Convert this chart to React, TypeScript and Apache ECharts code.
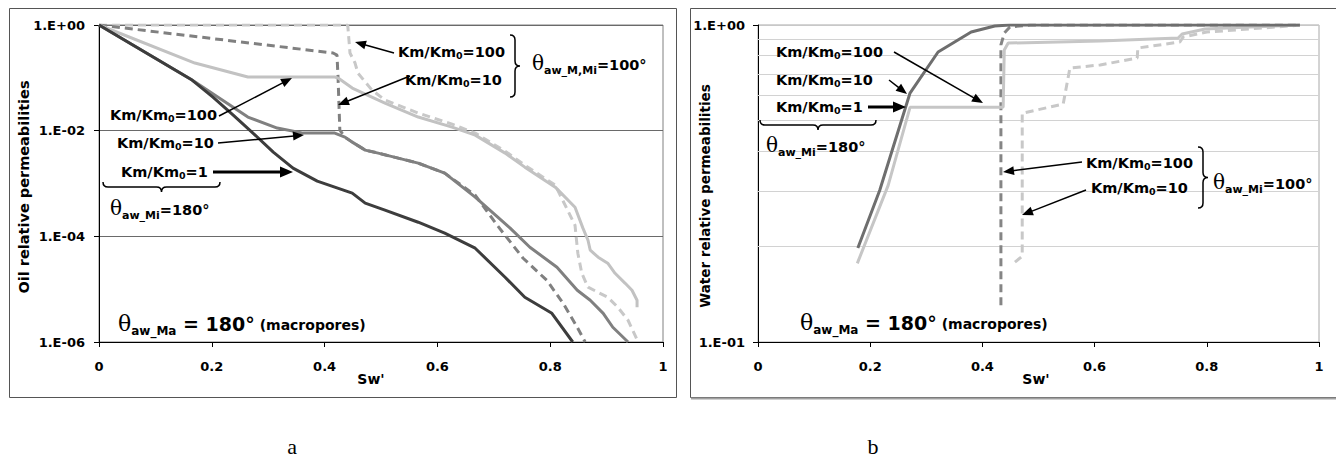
import React, { useEffect, useRef } from "react";
import * as echarts from "echarts";

// ---------------- data ----------------
const swTicks = [0, 0.2, 0.4, 0.6, 0.8, 1];
const oilTicks = [1e-6, 1e-4, 1e-2, 1];
const waterTicks = [0.1, 1];
const waterMinorGrid = [0.2, 0.3, 0.4, 0.5, 0.6, 0.7, 0.8, 0.9];

// (a) Oil relative permeability, theta_aw_Mi = 180 deg (solid)
const oilKm1Solid: [number, number][] = [
  [0, 1], [0.165, 0.0908], [0.202, 0.0432], [0.238, 0.0197], [0.273, 0.00899], [0.309, 0.00393],
  [0.344, 0.00195], [0.387, 0.00111], [0.418, 0.000853], [0.449, 0.000656], [0.472, 0.000424],
  [0.507, 0.000313], [0.566, 0.000185], [0.613, 0.000115], [0.667, 0.0000596], [0.72, 0.0000168],
  [0.755, 0.00000703], [0.803, 0.00000349], [0.84, 0.000001],
];
const oilKm10Solid: [number, number][] = [
  [0, 1], [0.165, 0.0908], [0.264, 0.0181], [0.316, 0.0112], [0.362, 0.00899], [0.418, 0.00899],
  [0.436, 0.00755], [0.449, 0.00607], [0.472, 0.00428], [0.495, 0.00376], [0.566, 0.00243],
  [0.613, 0.00157], [0.667, 0.000551], [0.729, 0.000143], [0.764, 0.0000622], [0.812, 0.000026],
  [0.848, 0.00000953], [0.871, 0.00000616], [0.894, 0.00000349], [0.911, 0.0000019], [0.938, 0.000001],
];
const oilKm100Solid: [number, number][] = [
  [0, 1], [0.17, 0.1905], [0.264, 0.1035], [0.418, 0.1035], [0.424, 0.099], [0.449, 0.064],
  [0.507, 0.0333], [0.566, 0.0181], [0.626, 0.01167], [0.667, 0.00824], [0.72, 0.00376],
  [0.755, 0.00204], [0.809, 0.000853], [0.844, 0.000356], [0.858, 0.000143], [0.867, 0.0000844],
  [0.871, 0.0000546], [0.885, 0.0000402], [0.902, 0.000031], [0.915, 0.00002], [0.933, 0.0000129],
  [0.945, 0.00000953], [0.954, 0.00000616], [0.954, 0.00000454],
];
// (a) theta_aw_M,Mi = 100 deg (dashed)
const oilKm10Dashed: [number, number][] = [
  [0, 1], [0.415, 0.295], [0.422, 0.27], [0.424, 0.0908], [0.427, 0.01025], [0.436, 0.00755],
  [0.449, 0.00607], [0.472, 0.00428], [0.495, 0.00376], [0.566, 0.00243], [0.613, 0.00157],
  [0.667, 0.000601], [0.706, 0.000162], [0.752, 0.0000385], [0.794, 0.0000147], [0.823, 0.0000054],
  [0.848, 0.0000019], [0.862, 0.000001],
];
const oilKm100Dashed: [number, number][] = [
  [0, 1], [0.441, 1], [0.445, 0.295], [0.454, 0.1905], [0.459, 0.1233], [0.484, 0.0587],
  [0.507, 0.0379], [0.566, 0.0215], [0.626, 0.0133], [0.667, 0.00899], [0.72, 0.0041],
  [0.755, 0.00222], [0.809, 0.00093], [0.844, 0.000162], [0.849, 0.0000479], [0.856, 0.00002],
  [0.867, 0.0000109], [0.902, 0.00000703], [0.92, 0.00000454], [0.938, 0.00000258], [0.956, 0.000001],
];

// (b) Water relative permeability
const waterKm10Solid: [number, number][] = [
  [0.178, 0.198], [0.217, 0.301], [0.271, 0.61], [0.321, 0.822], [0.38, 0.95], [0.422, 0.993],
  [0.449, 1], [0.966, 1],
];
const waterKm1Solid: [number, number][] = [
  [0.177, 0.177], [0.232, 0.312], [0.271, 0.55], [0.437, 0.55], [0.439, 0.834], [0.446, 0.877],
  [0.61, 0.89], [0.749, 0.91], [0.756, 0.937], [0.797, 0.971], [0.877, 0.985], [0.966, 1],
];
const waterKm100Dashed: [number, number][] = [
  [0.433, 0.1306], [0.433, 0.865], [0.439, 0.943], [0.449, 0.986], [0.485, 1], [0.966, 1],
];
const waterKm10Dashed: [number, number][] = [
  [0.458, 0.1786], [0.471, 0.1865], [0.471, 0.527], [0.544, 0.563], [0.556, 0.732], [0.61, 0.748],
  [0.676, 0.787], [0.677, 0.846], [0.752, 0.884], [0.758, 0.917], [0.8, 0.95], [0.948, 0.993], [0.966, 1],
];

// ---------------- helpers ----------------
const SANS = "DejaVu Sans";
const SERIF = "DejaVu Serif";

type Part = { t: string; size: number; serif?: boolean; normal?: boolean; dy?: number };
function richText(x: number, y: number, parts: Part[]) {
  const maxSize = Math.max(...parts.filter((p) => !p.dy).map((p) => p.size));
  const B = 0.8 * maxSize;
  const rich: any = {};
  let text = "";
  parts.forEach((p, i) => {
    const key = "r" + i;
    const pad = Math.max(0, B + (p.dy || 0) - 0.8 * p.size);
    rich[key] = {
      fontFamily: p.serif ? SERIF : SANS,
      fontWeight: p.normal ? "normal" : "bold",
      fontSize: p.size,
      lineHeight: p.size,
      padding: [pad, 0, 0, 0],
      verticalAlign: "top",
      fill: "#000",
    };
    text += `{${key}|${p.t}}`;
  });
  return {
    type: "text",
    x,
    y,
    silent: true,
    z: 100,
    style: { text, rich, align: "left", verticalAlign: "middle", fill: "#000" },
  };
}
const km = (x: number, y: number, r: string) =>
  richText(x, y, [{ t: "Km/Km", size: 14.5 }, { t: "0", size: 9.5, dy: 2 }, { t: "=" + r, size: 14.5 }]);
const theta = (x: number, y: number, sub: string, val: string) =>
  richText(x, y, [
    { t: "θ", size: 20, serif: true, normal: true },
    { t: sub, size: 11, dy: 5 },
    { t: val, size: 14.5 },
  ]);
const thetaMa = (x: number, y: number) =>
  richText(x, y, [
    { t: "θ", size: 22, serif: true, normal: true },
    { t: "aw_Ma", size: 12, dy: 5 },
    { t: " = 180°", size: 19 },
    { t: " (macropores)", size: 14 },
  ]);

function arrow(x1: number, y1: number, x2: number, y2: number, w = 1.5) {
  const dx = x2 - x1, dy = y2 - y1;
  const len = Math.sqrt(dx * dx + dy * dy);
  const ux = dx / len, uy = dy / len;
  const hl = w > 2 ? 13 : 11, hw = w > 2 ? 5.5 : 4.5;
  const bx = x2 - ux * hl, by = y2 - uy * hl;
  return [
    { type: "line", silent: true, z: 100, shape: { x1, y1, x2: bx + ux, y2: by + uy }, style: { stroke: "#000", lineWidth: w } },
    {
      type: "polygon", silent: true, z: 100,
      shape: { points: [[x2, y2], [bx - uy * hw, by + ux * hw], [bx + uy * hw, by - ux * hw]] },
      style: { fill: "#000" },
    },
  ];
}

function underBrace(x0: number, x1: number, y0: number, r = 5) {
  const m = (x0 + x1) / 2;
  return `M${x0} ${y0} Q${x0} ${y0 + r} ${x0 + r} ${y0 + r} L${m - r} ${y0 + r} Q${m} ${y0 + r} ${m} ${y0 + 2 * r} Q${m} ${y0 + r} ${m + r} ${y0 + r} L${x1 - r} ${y0 + r} Q${x1} ${y0 + r} ${x1} ${y0}`;
}
function rightBrace(x0: number, y0: number, y1: number, r = 5) {
  const m = (y0 + y1) / 2;
  return `M${x0} ${y0} Q${x0 + r} ${y0} ${x0 + r} ${y0 + r} L${x0 + r} ${m - r} Q${x0 + r} ${m} ${x0 + 2 * r} ${m} Q${x0 + r} ${m} ${x0 + r} ${m + r} L${x0 + r} ${y1 - r} Q${x0 + r} ${y1} ${x0} ${y1}`;
}
echarts.graphic.registerShape("braceA1", echarts.graphic.extendPath(underBrace(103, 220, 182), {}) as any);
echarts.graphic.registerShape("braceA2", echarts.graphic.extendPath(rightBrace(510, 35, 97), {}) as any);
echarts.graphic.registerShape("braceB1", echarts.graphic.extendPath(underBrace(760, 876, 120), {}) as any);
echarts.graphic.registerShape("braceB2", echarts.graphic.extendPath(rightBrace(1198, 147, 208), {}) as any);
const brace = (name: string) => ({
  type: name, silent: true, z: 100, style: { stroke: "#000", fill: "none", lineWidth: 1.5 },
});

const sci = (v: number) => {
  const e = Math.round(Math.log10(v));
  return "1.E" + (e < 0 ? "-" : "+") + String(Math.abs(e)).padStart(2, "0");
};

const DARK = "#3d3d3d";
const MID = "#808080";
const LIGHT = "#c2c2c2";

function line(data: [number, number][], gi: number, color: string, dashed: boolean, z = 3) {
  return {
    type: "line",
    xAxisIndex: gi,
    yAxisIndex: gi,
    data,
    symbol: "none",
    showSymbol: false,
    silent: true,
    z,
    lineStyle: { color, width: 3, type: dashed ? [8, 5] : "solid" },
  };
}

function xAxis(gi: number) {
  return {
    type: "value",
    gridIndex: gi,
    min: swTicks[0],
    max: swTicks[swTicks.length - 1],
    interval: swTicks[1] - swTicks[0],
    axisLine: { show: true, lineStyle: { color: "#000", width: 1 } },
    axisTick: { show: true, length: 5, lineStyle: { color: "#000" } },
    axisLabel: {
      margin: 18,
      color: "#000",
      fontFamily: SANS,
      fontWeight: "bold",
      fontSize: 13,
      formatter: (v: number) => String(+v.toFixed(1)),
    },
    splitLine: { show: false },
  };
}

export default function App() {
  const ref = useRef<HTMLDivElement>(null);
  useEffect(() => {
    if (!ref.current) return;
    const chart = echarts.init(ref.current, undefined, { renderer: "svg" });
    const option: any = {
      animation: false,
      grid: [
        { left: 99, top: 25, width: 564, height: 317, show: true, borderColor: "#808080", borderWidth: 1 },
        { left: 758, top: 25, width: 561, height: 317, show: true, borderColor: "#a8a8a8", borderWidth: 1 },
      ],
      xAxis: [xAxis(0), xAxis(1)],
      yAxis: [
        {
          type: "log",
          gridIndex: 0,
          logBase: 100,
          min: oilTicks[0],
          max: oilTicks[oilTicks.length - 1],
          splitNumber: oilTicks.length - 1,
          axisLine: { show: true, lineStyle: { color: "#000", width: 1 } },
          axisTick: { show: true, length: 5, lineStyle: { color: "#000" } },
          axisLabel: { margin: 14, color: "#000", fontFamily: SANS, fontWeight: "bold", fontSize: 13, formatter: sci },
          splitLine: { show: true, lineStyle: { color: "#6a6a6a", width: 1 } },
        },
        {
          type: "log",
          gridIndex: 1,
          logBase: 10,
          min: waterTicks[0],
          max: waterTicks[1],
          axisLine: { show: true, lineStyle: { color: "#000", width: 1 } },
          axisTick: { show: true, length: 5, lineStyle: { color: "#000" } },
          axisLabel: { margin: 13, color: "#000", fontFamily: SANS, fontWeight: "bold", fontSize: 13, formatter: sci },
          splitLine: { show: true, lineStyle: { color: "#c8c8c8", width: 1 } },
        },
      ],
      series: [
        {
          type: "line",
          xAxisIndex: 1,
          yAxisIndex: 1,
          data: [],
          silent: true,
          z: 1,
          markLine: {
            silent: true,
            z: 1,
            symbol: ["none", "none"],
            label: { show: false },
            lineStyle: { color: "#d2d2d2", type: "solid", width: 1 },
            data: waterMinorGrid.map((v) => ({ yAxis: v })),
          },
        },
        line(oilKm100Dashed, 0, "#c8c8c8", true, 2),
        line(oilKm10Dashed, 0, MID, true, 2),
        line(oilKm100Solid, 0, LIGHT, false),
        line(oilKm10Solid, 0, MID, false),
        line(oilKm1Solid, 0, DARK, false),
        line(waterKm10Dashed, 1, "#c8c8c8", true, 2),
        line(waterKm100Dashed, 1, "#858585", true, 2),
        line(waterKm1Solid, 1, "#c6c6c6", false),
        line(waterKm10Solid, 1, "#6e6e6e", false),
      ],
      graphic: {
        elements: [
          { type: "rect", silent: true, z: 0, shape: { x: 9.5, y: 8.5, width: 667, height: 389 }, style: { stroke: "#555", fill: "none", lineWidth: 1 } },
          { type: "rect", silent: true, z: 0, shape: { x: 690.5, y: 8.5, width: 660, height: 389 }, style: { stroke: "#555", fill: "none", lineWidth: 1 } },
          { type: "line", silent: true, z: 0, shape: { x1: 691, y1: 398.5, x2: 1336, y2: 398.5 }, style: { stroke: "#a0a0a0", lineWidth: 2 } },
          // axis names
          { type: "text", silent: true, x: 24, y: 187, rotation: Math.PI / 2, style: { text: "Oil relative permeabilities", fontFamily: SANS, fontWeight: "bold", fontSize: 14.5, fill: "#000", align: "center", verticalAlign: "middle" } },
          { type: "text", silent: true, x: 705, y: 196, rotation: Math.PI / 2, style: { text: "Water relative permeabilities", fontFamily: SANS, fontWeight: "bold", fontSize: 13.5, fill: "#000", align: "center", verticalAlign: "middle" } },
          { type: "text", silent: true, x: 371, y: 379, style: { text: "Sw'", fontFamily: SANS, fontWeight: "bold", fontSize: 14, fill: "#000", align: "center", verticalAlign: "middle" } },
          { type: "text", silent: true, x: 1036, y: 379, style: { text: "Sw'", fontFamily: SANS, fontWeight: "bold", fontSize: 14, fill: "#000", align: "center", verticalAlign: "middle" } },
          // captions
          { type: "text", silent: true, x: 292, y: 446, style: { text: "a", fontFamily: "Liberation Serif", fontSize: 22, fill: "#000", align: "center", verticalAlign: "middle" } },
          { type: "text", silent: true, x: 873, y: 446, style: { text: "b", fontFamily: "Liberation Serif", fontSize: 22, fill: "#000", align: "center", verticalAlign: "middle" } },
          // panel a annotations
          km(110, 115, "100"),
          km(117, 143, "10"),
          km(121, 172, "1"),
          theta(110, 208, "aw_Mi", "=180°"),
          thetaMa(118, 323),
          km(398, 52, "100"),
          km(405, 80, "10"),
          theta(532, 63, "aw_M,Mi", "=100°"),
          brace("braceA1"),
          brace("braceA2"),
          ...arrow(219, 116, 292, 78),
          ...arrow(218, 143, 304, 135),
          ...arrow(213, 172, 293, 172, 3),
          ...arrow(394, 53, 355, 42),
          ...arrow(410, 76, 338, 105),
          // panel b annotations
          km(776, 52, "100"),
          km(776, 80, "10"),
          km(776, 107, "1"),
          theta(766, 145, "aw_Mi", "=180°"),
          km(1086, 163, "100"),
          km(1091, 188, "10"),
          theta(1213, 182, "aw_Mi", "=100°"),
          thetaMa(800, 322),
          brace("braceB1"),
          brace("braceB2"),
          ...arrow(894, 52, 983, 103),
          ...arrow(889, 80, 907, 94),
          ...arrow(868, 107, 906, 107, 3),
          ...arrow(1082, 162, 1003, 172),
          ...arrow(1086, 190, 1022, 215),
        ],
      },
    };
    chart.setOption(option);
    return () => chart.dispose();
  }, []);
  return <div ref={ref} style={{ position: "absolute", left: 0, top: 0, width: 1336, height: 461, background: "#fff" }} />;
}
